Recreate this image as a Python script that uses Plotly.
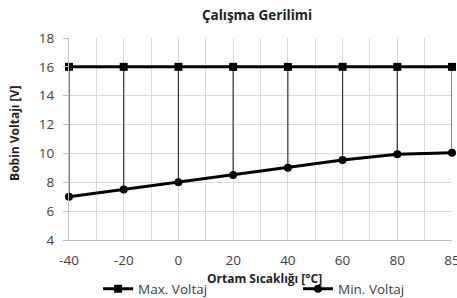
import plotly.graph_objects as go

categories = ["-40", "-20", "0", "20", "40", "60", "80", "85"]
max_voltaj = [16, 16, 16, 16, 16, 16, 16, 16]
min_voltaj = [7.0, 7.5, 8.0, 8.5, 9.0, 9.55, 9.95, 10.05]
y_ticks = [4, 6, 8, 10, 12, 14, 16, 18]

idx = list(range(len(categories)))

# high-low drop lines built from the data
hx, hy = [], []
for i, lo, hi in zip(idx, min_voltaj, max_voltaj):
    hx += [i, i, None]
    hy += [lo, hi, None]

FONT = "Open Sans, Liberation Sans, sans-serif"

fig = go.Figure()
fig.add_trace(go.Scatter(x=hx, y=hy, mode="lines", line=dict(color="#333333", width=1.2),
                         showlegend=False, hoverinfo="skip", cliponaxis=False))
fig.add_trace(go.Scatter(x=idx, y=max_voltaj, mode="lines+markers", name="Max. Voltaj",
                         line=dict(color="#000000", width=3),
                         marker=dict(symbol="square", size=8, color="#000000"),
                         legend="legend", cliponaxis=False))
fig.add_trace(go.Scatter(x=idx, y=min_voltaj, mode="lines+markers", name="Min. Voltaj",
                         line=dict(color="#000000", width=3),
                         marker=dict(symbol="circle", size=8, color="#000000"),
                         legend="legend2", cliponaxis=False))

fig.update_layout(
    width=457, height=298,
    margin=dict(l=69, r=5, t=38, b=58, autoexpand=False),
    paper_bgcolor="white", plot_bgcolor="white",
    font=dict(family=FONT, size=13, color="#404040"),
    title=dict(text="<b>Çalışma Gerilimi</b>", x=0.5624, xanchor="center", y=0.95, yanchor="middle",
               font=dict(size=13.5, color="#222222", family=FONT)),
    xaxis=dict(range=[0, 7], tickvals=idx, ticktext=categories, showgrid=True,
               gridcolor="#d9d9d9", gridwidth=1, zeroline=False, showline=True,
               linecolor="#bfbfbf", ticks="", ticklabelstandoff=8,
               ticklabeloverflow="allow",
               tickfont=dict(size=13.5, color="#404040"),
               minor=dict(dtick=0.5, tick0=0, showgrid=True, gridcolor="#d9d9d9", gridwidth=1)),
    yaxis=dict(range=[4, 18], tickvals=y_ticks, showgrid=True, gridcolor="#d9d9d9",
               zeroline=False, showline=True, linecolor="#bfbfbf", ticks="outside",
               ticklen=5, tickcolor="#bfbfbf", ticklabelstandoff=6,
               tickfont=dict(size=13.5, color="#404040")),
    legend=dict(orientation="h", x=0.076, xanchor="left", y=-0.2426, yanchor="middle",
                font=dict(size=13.5, color="#404040"), bgcolor="rgba(0,0,0,0)"),
    legend2=dict(orientation="h", x=0.598, xanchor="left", y=-0.2426, yanchor="middle",
                 font=dict(size=13.5, color="#404040"), bgcolor="rgba(0,0,0,0)"),
    annotations=[
        dict(text="<b>Ortam Sıcaklığı [°C]</b>", xref="paper", yref="paper", x=0.51, y=-0.193,
             xanchor="center", yanchor="middle", showarrow=False,
             font=dict(size=12, color="#222222")),
        dict(text="<b>Bobin Voltajı [V]</b>", xref="paper", yref="paper", x=-0.141, y=0.53,
             xanchor="center", yanchor="middle", showarrow=False, textangle=-90,
             font=dict(size=12, color="#222222")),
    ],
)

fig.write_html(
    "out.html",
    config={"displayModeBar": False},
    post_script="document.body.style.margin='0';document.body.style.overflow='hidden';",
)
